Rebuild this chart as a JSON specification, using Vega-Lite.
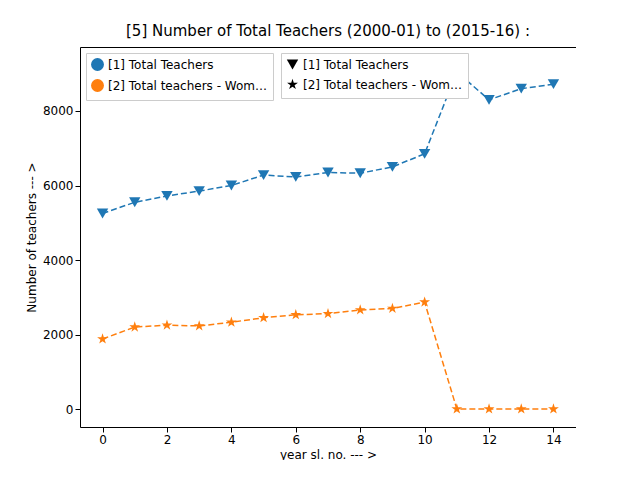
{
"$schema":"https://vega.github.io/schema/vega-lite/v6.json",
"width":496,"height":380,
"padding":{"left":25,"top":24,"right":0,"bottom":0},
"title":{"text":"[5] Number of Total Teachers (2000-01) to (2015-16) :","font":"DejaVu Sans","fontSize":15,"fontWeight":"normal","offset":8},
"config":{"font":"DejaVu Sans","view":{"stroke":"black"},"axis":{"labelFont":"DejaVu Sans","titleFont":"DejaVu Sans","labelFontSize":12,"titleFontSize":12,"titleFontWeight":"normal","grid":false,"domain":false,"tickColor":"black","labelColor":"black","format":"d"}},
"data":{"values":[
{"x":0,"v":5250,"s":"[1] Total Teachers"},{"x":1,"v":5550,"s":"[1] Total Teachers"},{"x":2,"v":5720,"s":"[1] Total Teachers"},{"x":3,"v":5850,"s":"[1] Total Teachers"},{"x":4,"v":6000,"s":"[1] Total Teachers"},{"x":5,"v":6280,"s":"[1] Total Teachers"},{"x":6,"v":6230,"s":"[1] Total Teachers"},{"x":7,"v":6350,"s":"[1] Total Teachers"},{"x":8,"v":6330,"s":"[1] Total Teachers"},{"x":9,"v":6500,"s":"[1] Total Teachers"},{"x":10,"v":6850,"s":"[1] Total Teachers"},{"x":11,"v":9050,"s":"[1] Total Teachers"},{"x":12,"v":8300,"s":"[1] Total Teachers"},{"x":13,"v":8600,"s":"[1] Total Teachers"},{"x":14,"v":8720,"s":"[1] Total Teachers"},
{"x":0,"v":1880,"s":"[2] Total teachers - Women"},{"x":1,"v":2200,"s":"[2] Total teachers - Women"},{"x":2,"v":2250,"s":"[2] Total teachers - Women"},{"x":3,"v":2230,"s":"[2] Total teachers - Women"},{"x":4,"v":2330,"s":"[2] Total teachers - Women"},{"x":5,"v":2450,"s":"[2] Total teachers - Women"},{"x":6,"v":2530,"s":"[2] Total teachers - Women"},{"x":7,"v":2560,"s":"[2] Total teachers - Women"},{"x":8,"v":2660,"s":"[2] Total teachers - Women"},{"x":9,"v":2700,"s":"[2] Total teachers - Women"},{"x":10,"v":2870,"s":"[2] Total teachers - Women"},{"x":11,"v":0,"s":"[2] Total teachers - Women"},{"x":12,"v":0,"s":"[2] Total teachers - Women"},{"x":13,"v":0,"s":"[2] Total teachers - Women"},{"x":14,"v":0,"s":"[2] Total teachers - Women"}
]},
"encoding":{
"x":{"field":"x","type":"quantitative","scale":{"domain":[-0.7,14.7],"nice":false,"zero":false},"axis":{"values":[0,2,4,6,8,10,12,14],"title":"year sl. no. --- >"}},
"y":{"field":"v","type":"quantitative","scale":{"domain":[-483,9718],"nice":false,"zero":false},"axis":{"values":[0,2000,4000,6000,8000],"title":"Number of teachers --- >"}},
"color":{"field":"s","type":"nominal","scale":{"range":["#1f77b4","#ff7f0e"]},"legend":{"title":null,"orient":"top-left","offset":6,"strokeColor":"#cccccc","fillColor":"white","padding":5,"labelFontSize":12,"symbolSize":130}},
"shape":{"field":"s","type":"nominal","scale":{"range":["triangle-down","M0,-1L0.2245,-0.309L0.951,-0.309L0.363,0.118L0.588,0.809L0,0.382L-0.588,0.809L-0.363,0.118L-0.951,-0.309L-0.2245,-0.309Z"]},"legend":{"title":null,"orient":"top-left","offset":6,"strokeColor":"#cccccc","fillColor":"white","padding":5,"labelFontSize":12,"symbolSize":130}}
},
"layer":[
{"mark":{"type":"line","strokeDash":[6,3],"strokeWidth":1.5}},
{"mark":{"type":"point","filled":true,"opacity":1,"size":130}}
]
}
